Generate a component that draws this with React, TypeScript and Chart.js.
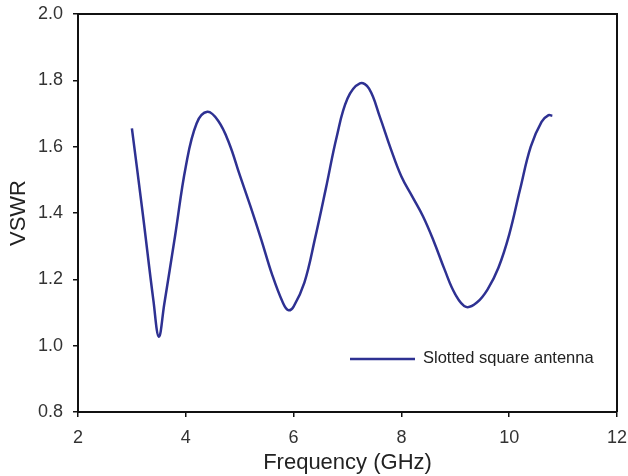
import React, { useEffect, useRef } from "react";
import { Chart, registerables } from "chart.js";

Chart.register(...registerables);

const freqGHz = [3.0, 3.2, 3.4, 3.5, 3.6, 3.8, 4.0, 4.2, 4.4, 4.6, 4.8, 5.0, 5.2, 5.4, 5.6, 5.8, 5.9, 6.0, 6.2, 6.4, 6.6, 6.8, 7.0, 7.23, 7.4, 7.6, 7.8, 8.0, 8.2, 8.4, 8.6, 8.8, 9.0, 9.2, 9.4, 9.6, 9.8, 10.0, 10.2, 10.4, 10.6, 10.73, 10.8];
const vswr = [1.655, 1.4, 1.135, 1.027, 1.125, 1.33, 1.54, 1.67, 1.705, 1.678, 1.612, 1.515, 1.42, 1.32, 1.215, 1.13, 1.107, 1.118, 1.19, 1.325, 1.475, 1.63, 1.745, 1.791, 1.775, 1.69, 1.595, 1.51, 1.45, 1.39, 1.315, 1.23, 1.155, 1.117, 1.13, 1.17, 1.235, 1.335, 1.47, 1.6, 1.675, 1.695, 1.693];
const seriesLabel = "Slotted square antenna";
const xTitle = "Frequency (GHz)";
const yTitle = "VSWR";

const lineColor = "#2e3192";
const FONT = "'Liberation Sans', Arial, sans-serif";

export default function App() {
  const ref = useRef<HTMLCanvasElement | null>(null);
  useEffect(() => {
    if (!ref.current) return;
    const boxPlugin = {
      id: "boxAndLegend",
      afterDraw(chart: any) {
        const { ctx, chartArea } = chart;
        ctx.save();
        ctx.strokeStyle = "#111";
        ctx.lineWidth = 2;
        ctx.beginPath();
        ctx.moveTo(chartArea.left, chartArea.top);
        ctx.lineTo(chartArea.right, chartArea.top);
        ctx.lineTo(chartArea.right, chartArea.bottom);
        ctx.stroke();
        // legend
        ctx.strokeStyle = lineColor;
        ctx.lineWidth = 2.5;
        ctx.beginPath();
        ctx.moveTo(350, 359);
        ctx.lineTo(415, 359);
        ctx.stroke();
        ctx.fillStyle = "#222";
        ctx.font = `16.5px ${FONT}`;
        ctx.textBaseline = "middle";
        ctx.fillText(seriesLabel, 423, 358);
        ctx.restore();
      },
    };
    const chart = new Chart(ref.current, {
      type: "line",
      data: {
        datasets: [
          {
            label: seriesLabel,
            data: freqGHz.map((x, i) => ({ x, y: vswr[i] })),
            borderColor: lineColor,
            borderWidth: 2.5,
            pointRadius: 0,
            tension: 0.4,
            fill: false,
          },
        ],
      },
      options: {
        animation: false,
        responsive: false,
        layout: { padding: { left: 0, right: 11, top: 14, bottom: 0 } },
        plugins: { legend: { display: false }, tooltip: { enabled: false } },
        scales: {
          x: {
            type: "linear",
            min: 2,
            max: 12,
            ticks: { stepSize: 2, maxRotation: 0, color: "#333", font: { size: 18, family: FONT }, padding: 10 },
            grid: { display: true, drawOnChartArea: false, drawTicks: true, tickLength: 5, color: "#111", lineWidth: 1.5 },
            border: { display: true, color: "#111", width: 2 },
            title: { display: true, text: xTitle, color: "#222", font: { size: 22, family: FONT }, padding: { top: 3, bottom: 0 } },
            afterFit: (s: any) => { s.height = 64; s.paddingRight = 0; s.paddingLeft = 0; },
          },
          y: {
            type: "linear",
            min: 0.8,
            max: 2.0,
            ticks: { stepSize: 0.2, color: "#333", font: { size: 18, family: FONT }, padding: 10, callback: (v: any) => Number(v).toFixed(1) },
            grid: { display: true, drawOnChartArea: false, drawTicks: true, tickLength: 5, color: "#111", lineWidth: 1.5 },
            border: { display: true, color: "#111", width: 2 },
            title: { display: true, text: yTitle, color: "#222", font: { size: 22, family: FONT }, padding: { top: 6, bottom: 0 } },
            afterFit: (s: any) => { s.width = 78; s.paddingTop = 0; s.paddingBottom = 0; },
          },
        },
      },
      plugins: [boxPlugin],
    });
    return () => chart.destroy();
  }, []);
  return (
    <div style={{ position: "absolute", left: 0, top: 0, width: 628, height: 476, background: "#fff" }}>
      <canvas ref={ref} width={628} height={476} style={{ width: 628, height: 476 }} />
    </div>
  );
}
